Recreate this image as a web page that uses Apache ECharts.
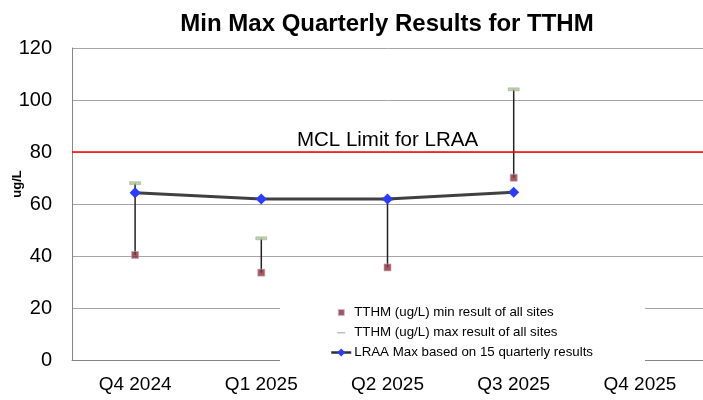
<!DOCTYPE html>
<html><head><meta charset="utf-8">
<script src="https://cdn.jsdelivr.net/npm/echarts@6/dist/echarts.min.js"></script>
<style>html,body{margin:0;padding:0;background:#fff}#c{width:703px;height:400px}</style>
</head><body><div id="c"></div>
<script>
var categories = ['Q4 2024', 'Q1 2025', 'Q2 2025', 'Q3 2025', 'Q4 2025'];
var minVals = [40.4, 33.6, 35.6, 70.1, null];
var maxVals = [68.0, 46.8, 61.9, 104.1, null];
var lraaVals = [64.3, 61.9, 61.9, 64.5, null];
var mclLimit = 80;
var yTicks = [0, 20, 40, 60, 80, 100, 120];

function svgIcon(body) {
  return 'image://data:image/svg+xml;charset=utf-8,' + encodeURIComponent(
    '<svg xmlns="http://www.w3.org/2000/svg" width="20" height="10" viewBox="0 0 20 10">' + body + '</svg>');
}
var minIcon = svgIcon('<rect x="7" y="2" width="6" height="6" fill="#8e2f33" stroke="#b9a6cc" stroke-width="0.8"/>');
var maxIcon = svgIcon('<rect x="6" y="4.5" width="8" height="1.5" fill="#b0acc6"/>');

var chart = echarts.init(document.getElementById('c'), null, {renderer: 'canvas'});
var FONT = 'Liberation Sans, Arial, sans-serif';
var option = {
  animation: false,
  title: {
    text: 'Min Max Quarterly Results for TTHM',
    left: 382, top: 7, textAlign: 'center',
    textStyle: {fontFamily: FONT, fontWeight: 'bold', fontSize: 24, color: '#000'}
  },
  graphic: [{
    type: 'text', x: 17, y: 184, rotation: Math.PI / 2,
    style: {text: 'ug/L', font: 'bold 13px ' + FONT, fill: '#000', textAlign: 'center', textVerticalAlign: 'middle'}
  }],
  grid: {left: 72, top: 48, width: 633, height: 312},
  legend: {
    orient: 'vertical', left: 280, top: 298,
    padding: [8, 52, 4, 50],
    backgroundColor: '#fff',
    itemWidth: 20, itemHeight: 10, itemGap: 7,
    textStyle: {fontFamily: FONT, fontSize: 13.3, color: '#000', padding: [0, 0, 0, -2]},
    data: [
      {name: 'TTHM (ug/L) min result of all sites', icon: minIcon},
      {name: 'TTHM (ug/L) max result of all sites', icon: maxIcon},
      {name: 'LRAA Max based on 15 quarterly results', lineStyle: {width: 2.5, color: '#303030'}}
    ]
  },
  xAxis: {
    type: 'category', data: categories, boundaryGap: true,
    axisLine: {lineStyle: {color: '#868686', width: 1}},
    axisTick: {show: false},
    axisLabel: {fontFamily: FONT, fontSize: 19, color: '#000', margin: 15}
  },
  yAxis: {
    type: 'value', min: yTicks[0], max: yTicks[yTicks.length - 1], interval: 20,
    axisLine: {show: true, lineStyle: {color: '#868686', width: 1}},
    axisTick: {show: false},
    splitLine: {lineStyle: {color: '#a6a6a6', width: 1}},
    axisLabel: {fontFamily: FONT, fontSize: 20, color: '#000', margin: 20}
  },
  series: [
    {
      type: 'custom', name: 'hilo', silent: true, z: 2,
      data: categories.map(function (c, i) { return [i, maxVals[i], minVals[i]]; }),
      encode: {x: 0, y: [1, 2]},
      renderItem: function (params, api) {
        if (api.value(1) == null || isNaN(api.value(1))) return null;
        var p1 = api.coord([api.value(0), api.value(1)]);
        var p2 = api.coord([api.value(0), api.value(2)]);
        return {type: 'line', shape: {x1: p1[0], y1: p1[1], x2: p2[0], y2: p2[1]},
          style: {stroke: '#222', lineWidth: 1.5}};
      }
    },
    {
      name: 'TTHM (ug/L) min result of all sites', type: 'scatter', z: 4,
      data: minVals, symbol: 'rect', symbolSize: 7,
      itemStyle: {color: '#8e2f33', borderColor: '#b9a6cc', borderWidth: 0.8}
    },
    {
      name: 'TTHM (ug/L) max result of all sites', type: 'scatter', z: 4,
      data: maxVals, symbol: 'rect', symbolSize: [11, 3],
      itemStyle: {color: '#a9c98f', borderColor: '#a0a0a0', borderWidth: 0.5}
    },
    {
      name: 'LRAA Max based on 15 quarterly results', type: 'line', z: 5,
      data: lraaVals, symbol: 'diamond', symbolSize: 11, showSymbol: true,
      lineStyle: {color: '#404040', width: 3},
      itemStyle: {color: '#2b3cff'},
      markLine: {
        silent: true, symbol: ['none', 'none'],
        lineStyle: {color: '#ff0000', width: 1.5, type: 'solid'},
        label: {show: true, position: 'insideMiddleTop', formatter: 'MCL Limit for LRAA',
          fontFamily: FONT, fontSize: 20.5, color: '#000', distance: [0, 1]},
        data: [{yAxis: mclLimit}]
      }
    }
  ]
};
chart.setOption(option);
</script></body></html>
